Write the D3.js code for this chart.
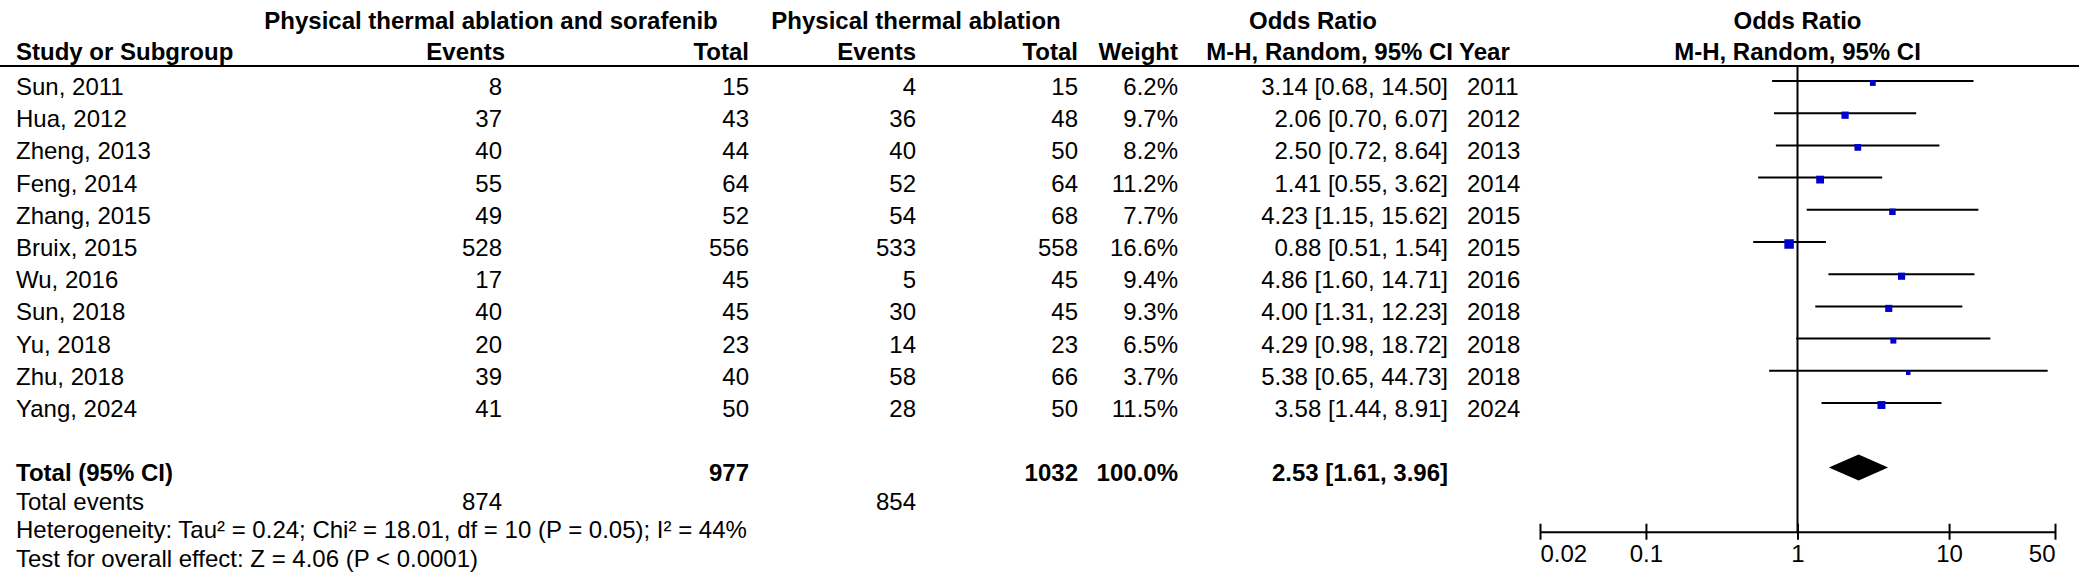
<!DOCTYPE html>
<html><head><meta charset="utf-8">
<script src="https://cdn.jsdelivr.net/npm/d3@7"></script>
<style>
html,body{margin:0;padding:0;background:#fff;}
svg text{font-family:"Liberation Sans",Arial,sans-serif;font-size:24px;fill:#000;}
</style></head>
<body>
<script>
const studies=["Sun, 2011","Hua, 2012","Zheng, 2013","Feng, 2014","Zhang, 2015","Bruix, 2015","Wu, 2016","Sun, 2018","Yu, 2018","Zhu, 2018","Yang, 2024"];
const expEvents=[8,37,40,55,49,528,17,40,20,39,41];
const expTotal=[15,43,44,64,52,556,45,45,23,40,50];
const ctrlEvents=[4,36,40,52,54,533,5,30,14,58,28];
const ctrlTotal=[15,48,50,64,68,558,45,45,23,66,50];
const weights=[6.2,9.7,8.2,11.2,7.7,16.6,9.4,9.3,6.5,3.7,11.5];
const oddsRatio=[3.14,2.06,2.50,1.41,4.23,0.88,4.86,4.00,4.29,5.38,3.58];
const ciLower=[0.68,0.70,0.72,0.55,1.15,0.51,1.60,1.31,0.98,0.65,1.44];
const ciUpper=[14.50,6.07,8.64,3.62,15.62,1.54,14.71,12.23,18.72,44.73,8.91];
const years=[2011,2012,2013,2014,2015,2015,2016,2018,2018,2018,2024];
const totalOR=[2.53,1.61,3.96];
const totalN=[977,1032];
const totalEvents=[874,854];
const axisTicks=[0.02,0.1,1,10,50];
const heterogeneity="Heterogeneity: Tau² = 0.24; Chi² = 18.01, df = 10 (P = 0.05); I² = 44%";
const overallTest="Test for overall effect: Z = 4.06 (P < 0.0001)";

const W=2079,H=586;
const svg=d3.select("body").append("svg").attr("width",W).attr("height",H);

const x=d3.scaleLog().domain([0.02,50]).range([1540,2055]);
const row=d3.scaleLinear().domain([0,10]).range([81,403]);
const box=d3.scaleSqrt().domain([0,16.6]).range([0,9.5]);
const f2=d3.format(".2f");
const col={name:16,expE:502,expT:749,ctrlE:916,ctrlT:1078,wt:1178,or:1448,yr:1467};
const base=14;

function txt(t,xx,yy,anchor,bold){
  return svg.append("text").attr("x",xx).attr("y",yy).attr("text-anchor",anchor||"start")
    .style("font-weight",bold?"bold":"normal").text(t);
}
// headers
txt("Physical thermal ablation and sorafenib",491,29,"middle",true);
txt("Physical thermal ablation",916,29,"middle",true);
txt("Odds Ratio",1313,29,"middle",true);
txt("Odds Ratio",x(1),29,"middle",true);
txt("Study or Subgroup",col.name,60,"start",true);
txt("Events",col.expE+3,60,"end",true);
txt("Total",col.expT,60,"end",true);
txt("Events",col.ctrlE,60,"end",true);
txt("Total",col.ctrlT,60,"end",true);
txt("Weight",col.wt,60,"end",true);
txt("M-H, Random, 95% CI",1453,60,"end",true);
txt("Year",1459,60,"start",true);
txt("M-H, Random, 95% CI",x(1),60,"middle",true);
svg.append("line").attr("x1",0).attr("x2",W).attr("y1",66).attr("y2",66).attr("stroke","#000").attr("stroke-width",2);

// rows
studies.forEach((s,i)=>{
  const y=row(i)+base;
  txt(s,col.name,y);
  txt(expEvents[i],col.expE,y,"end");
  txt(expTotal[i],col.expT,y,"end");
  txt(ctrlEvents[i],col.ctrlE,y,"end");
  txt(ctrlTotal[i],col.ctrlT,y,"end");
  txt(weights[i].toFixed(1)+"%",col.wt,y,"end");
  txt(`${f2(oddsRatio[i])} [${f2(ciLower[i])}, ${f2(ciUpper[i])}]`,col.or,y,"end");
  txt(years[i],col.yr,y,"start");
});

// total rows
const ty=row(12)+base;
txt("Total (95% CI)",col.name,ty,"start",true);
txt(totalN[0],col.expT,ty,"end",true);
txt(totalN[1],col.ctrlT,ty,"end",true);
txt("100.0%",col.wt,ty,"end",true);
txt(`${f2(totalOR[0])} [${f2(totalOR[1])}, ${f2(totalOR[2])}]`,col.or,ty,"end",true);
txt("Total events",col.name,510);
txt(totalEvents[0],col.expE,510,"end");
txt(totalEvents[1],col.ctrlE,510,"end");
txt(heterogeneity,col.name,538);
txt(overallTest,col.name,567);

// plot
const axisY=531.7;
svg.append("line").attr("x1",x(1)).attr("x2",x(1)).attr("y1",66).attr("y2",axisY).attr("stroke","#000").attr("stroke-width",2);
const g=svg.append("g");
studies.forEach((s,i)=>{
  const y=row(i);
  g.append("line").attr("x1",x(ciLower[i])).attr("x2",x(ciUpper[i])).attr("y1",y).attr("y2",y).attr("stroke","#000").attr("stroke-width",2);
  const sz=box(weights[i]);
  g.append("rect").attr("x",x(oddsRatio[i])-sz/2).attr("y",y+2-sz/2).attr("width",sz).attr("height",sz).attr("fill","#0000cc");
});
const dy=row(12), dh=13;
g.append("path").attr("d",`M${x(totalOR[1])},${dy}L${x(totalOR[0])},${dy-dh}L${x(totalOR[2])},${dy}L${x(totalOR[0])},${dy+dh}Z`).attr("fill","#000");

const ax=svg.append("g").attr("transform",`translate(0,${axisY})`)
  .call(d3.axisBottom(x).tickValues(axisTicks).tickFormat(d=>String(d)).tickSizeOuter(0).tickSizeInner(8));
ax.select(".domain").attr("stroke","#000").attr("stroke-width",2);
ax.selectAll(".tick line").attr("y1",-8).attr("y2",8).attr("stroke","#000").attr("stroke-width",2);
ax.selectAll(".tick text").attr("y",30).attr("dy",null)
  .style("font-family","'Liberation Sans',Arial,sans-serif").style("font-size","24px").attr("fill","#000")
  .attr("text-anchor",(d,i)=>i===0?"start":(i===axisTicks.length-1?"end":"middle"));
</script>
</body></html>
